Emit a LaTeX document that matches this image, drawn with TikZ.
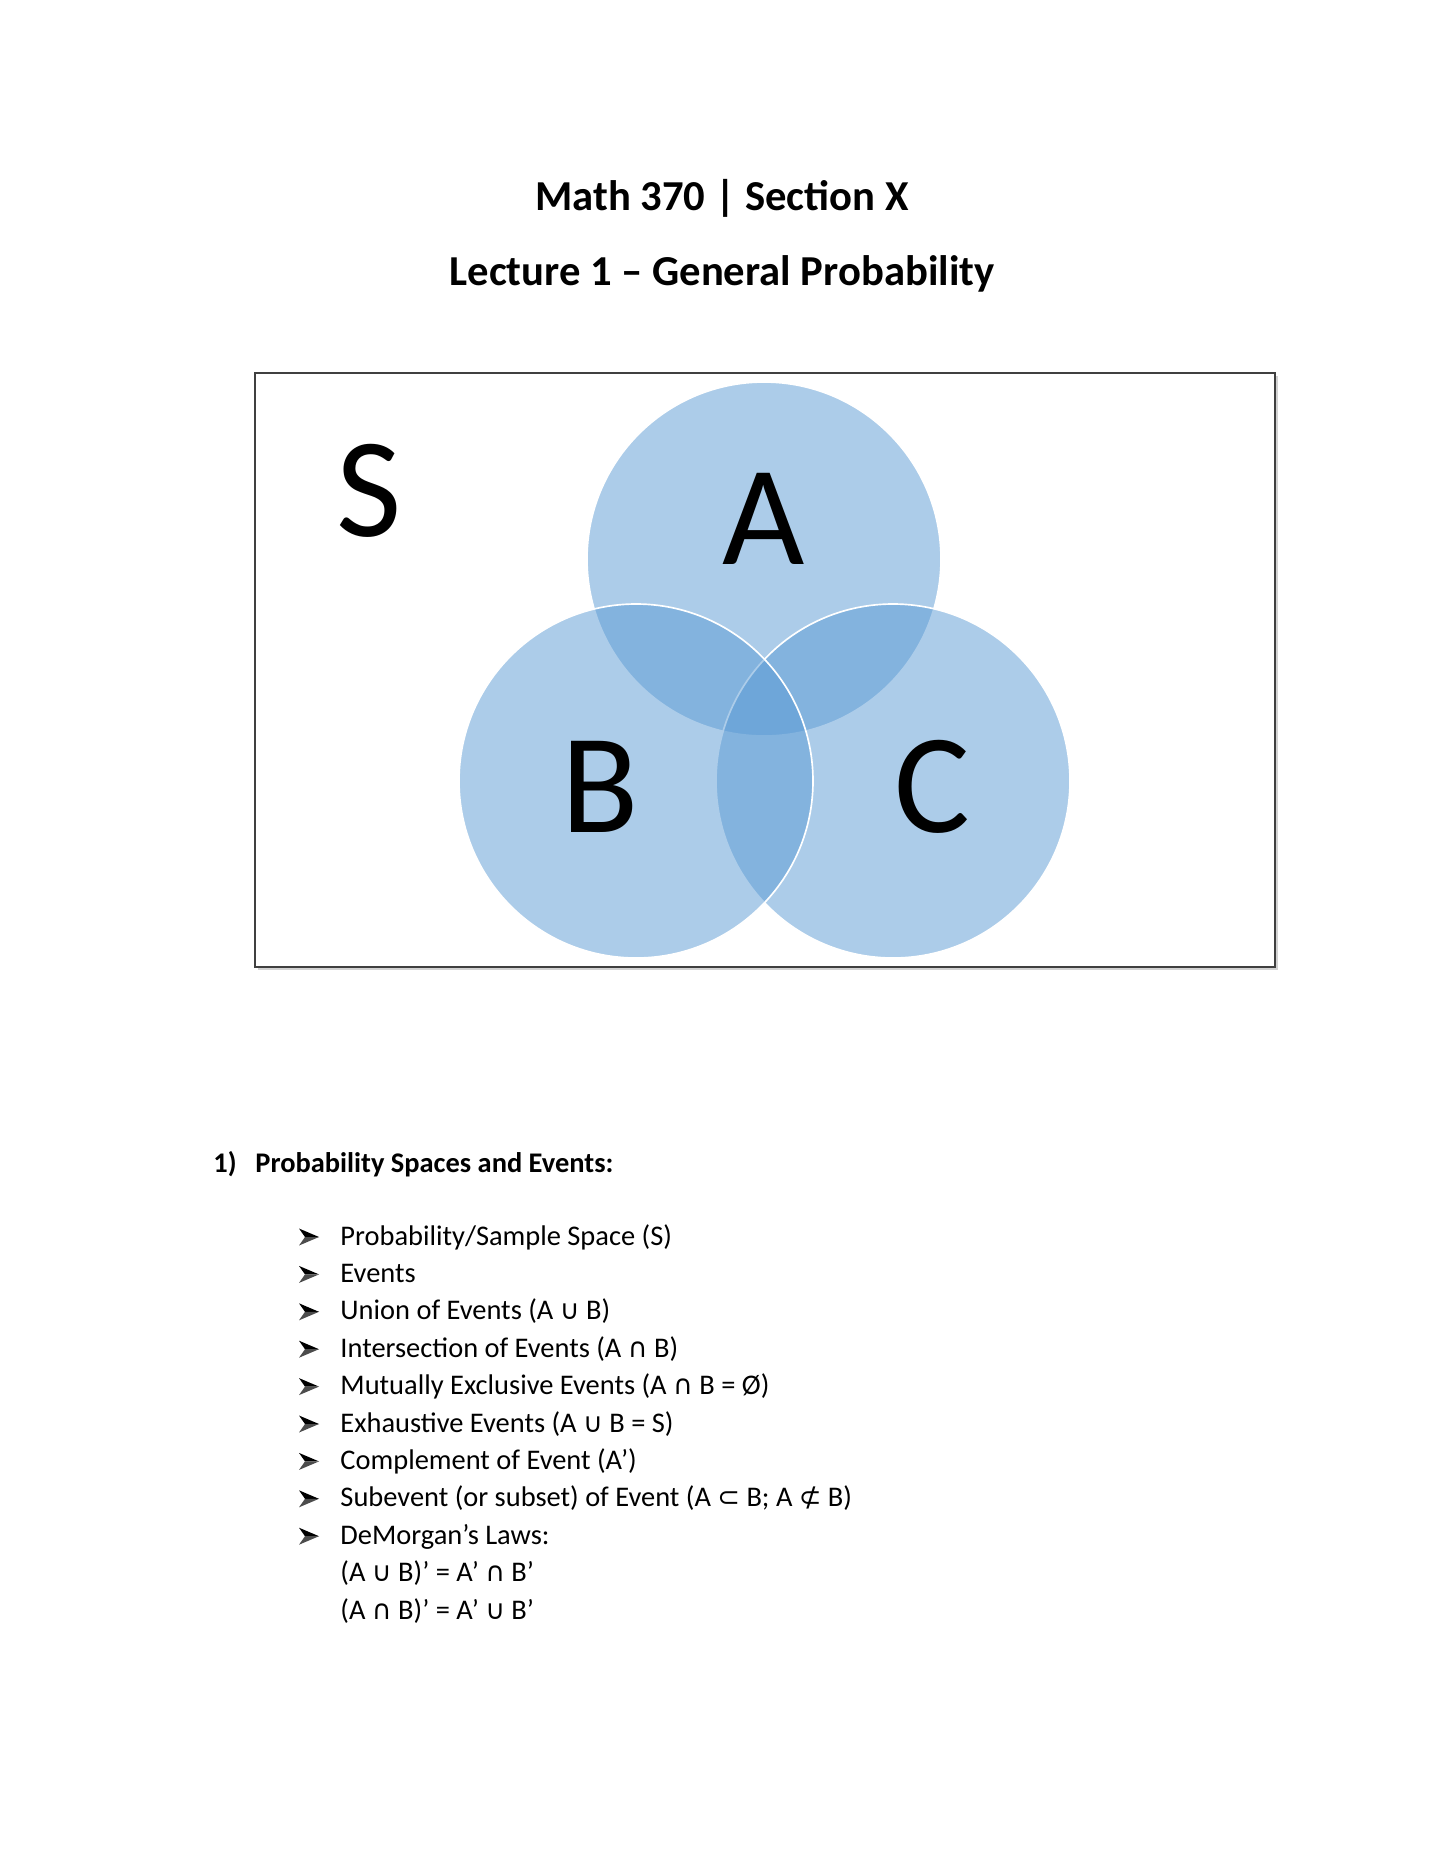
\documentclass[tikz,border=0pt]{standalone}
\usepackage{fontspec}
\setmainfont{Carlito}
\newfontfamily\symfont{DejaVu Sans}[Scale=0.95]
\usepackage{tikz}
\usetikzlibrary{positioning}
\definecolor{sblue}{HTML}{5B9BD5}
\definecolor{sgrey}{HTML}{404040}
\newcommand{\cupsym}{{\symfont ∪}}
\newcommand{\capsym}{{\symfont ∩}}
\newcommand{\subsym}{{\symfont ⊂}}
\newcommand{\nsubsym}{{\symfont ⊄}}
\tikzset{
  venn/.style={
    fill=sblue, fill opacity=0.5, draw=white, draw opacity=1, line width=0.7pt
  },
  setlab/.style={anchor=base, inner sep=0pt, font=\fontsize{60}{60}\selectfont},
  titletxt/.style={anchor=base, inner sep=0pt, font=\fontsize{18}{21}\selectfont\bfseries},
  headtxt/.style={anchor=base west, inner sep=0pt, font=\fontsize{12}{14}\selectfont\bfseries},
  entrytxt/.style={anchor=base west, inner sep=0pt, font=\fontsize{12}{14}\selectfont},
  arrowbul/.pic={
    \fill[black] (0,-16.5) -- (20,-8) -- (6,-8) -- cycle;
    \fill[black!70] (6,-8) -- (20,-8) -- (0,0.5) -- cycle;
  }
}
\begin{document}
\begin{tikzpicture}[x=0.014828cm, y=-0.014828cm]
  \useasboundingbox (0,0) rectangle (1456,1872);
  \node[titletxt] (title1) at (722,210) {Math 370 | Section X};
  \node[titletxt] (title2) at (722,285) {Lecture 1 – General Probability};
  \draw[gray!35, line width=0.9pt] (1277,376) -- (1277,969) -- (258,969);
  \draw[sgrey, line width=0.6pt, fill=white] (255,373) rectangle (1275,967);
  \draw[venn] (764,559) circle[radius=177];
  \draw[venn] (893,781) circle[radius=177];
  \draw[venn] (636,781) circle[radius=177];
  \node[setlab] (labS) at (369,536) {S};
  \node[setlab] (labA) at (764,564) {A};
  \node[setlab] (labB) at (600,832) {B};
  \node[setlab] (labC) at (932,832) {C};
  \node[headtxt] (num1) at (213,1172) {1)};
  \node[headtxt] (head1) at (255,1172) {Probability Spaces and Events:};
  \foreach \txt [count=\k] in {
      {Probability/Sample Space (S)},
      {Events},
      {Union of Events (A \cupsym\ B)},
      {Intersection of Events (A \capsym\ B)},
      {Mutually Exclusive Events (A \capsym\ B = Ø)},
      {Exhaustive Events (A \cupsym\ B = S)},
      {Complement of Event (A’)},
      {Subevent (or subset) of Event (A \subsym\ B; A \nsubsym\ B)},
      {DeMorgan’s Laws:}} {
    \pic at (299,1245+37.4*\k-37.4) {arrowbul};
    \node[entrytxt] (entry\k) at (340,1245+37.4*\k-37.4) {\txt};
  }
  \node[entrytxt] (law1) at (340,1581.6) {(A \cupsym\ B)’ = A’ \capsym\ B’};
  \node[entrytxt] (law2) at (340,1619) {(A \capsym\ B)’ = A’ \cupsym\ B’};
\end{tikzpicture}
\end{document}
